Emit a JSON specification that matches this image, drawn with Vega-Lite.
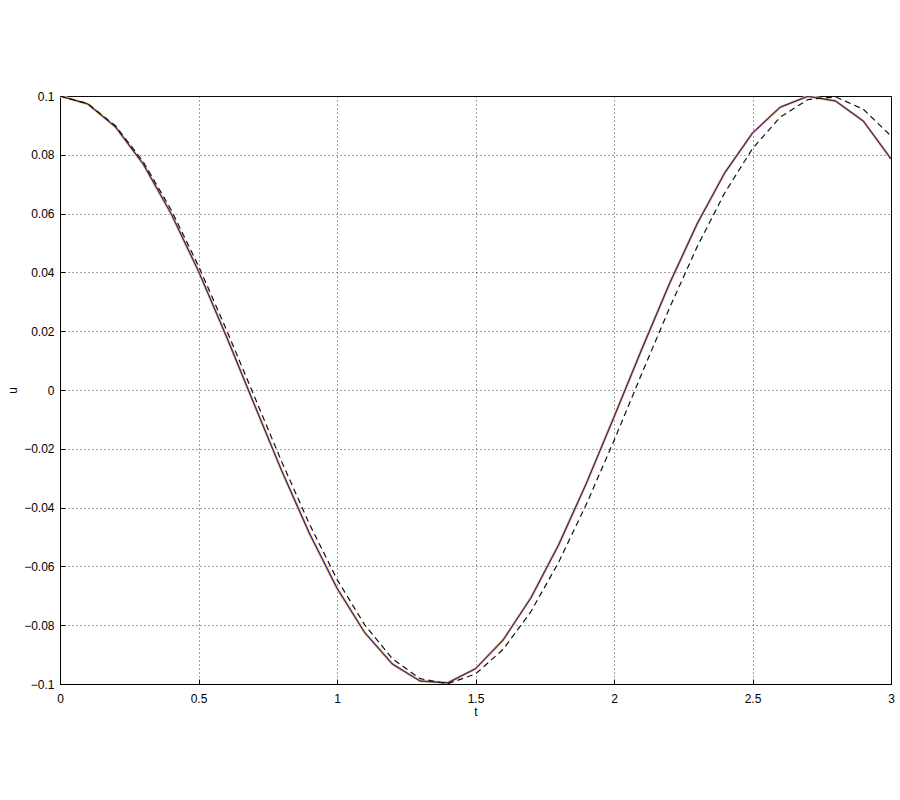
{
  "$schema": "https://vega.github.io/schema/vega-lite/v6.json",
  "width": 831,
  "height": 588,
  "autosize": {"type": "none"},
  "padding": {"left": 60, "top": 96, "right": 9, "bottom": 116},
  "background": "white",
  "config": {
    "view": {"stroke": "black", "strokeWidth": 1},
    "font": "Liberation Sans",
    "axis": {
      "labelFont": "Liberation Sans",
      "titleFont": "Liberation Sans",
      "labelFontSize": 12,
      "titleFontSize": 12,
      "titleFontWeight": "normal",
      "labelColor": "black",
      "titleColor": "black",
      "domainColor": "black",
      "tickColor": "black",
      "grid": true,
      "gridColor": "#222222",
      "gridDash": [1, 3],
      "gridWidth": 1,
      "gridOpacity": 0.85
    }
  },
  "datasets": {
    "curves": [
      {"t": 0.0, "u": 0.1}, {"t": 0.1, "u": 0.0973}, {"t": 0.2, "u": 0.0895},
      {"t": 0.3, "u": 0.0769}, {"t": 0.4, "u": 0.0602}, {"t": 0.5, "u": 0.0404},
      {"t": 0.6, "u": 0.0184}, {"t": 0.7, "u": -0.0046}, {"t": 0.8, "u": -0.0274},
      {"t": 0.9, "u": -0.0487}, {"t": 1.0, "u": -0.0674}, {"t": 1.1, "u": -0.0825},
      {"t": 1.2, "u": -0.0932}, {"t": 1.3, "u": -0.099}, {"t": 1.4, "u": -0.0996},
      {"t": 1.5, "u": -0.0948}, {"t": 1.6, "u": -0.085}, {"t": 1.7, "u": -0.0707},
      {"t": 1.8, "u": -0.0527}, {"t": 1.9, "u": -0.0318}, {"t": 2.0, "u": -0.0092},
      {"t": 2.1, "u": 0.0138}, {"t": 2.2, "u": 0.0361}, {"t": 2.3, "u": 0.0565},
      {"t": 2.4, "u": 0.0739}, {"t": 2.5, "u": 0.0874}, {"t": 2.6, "u": 0.0962},
      {"t": 2.7, "u": 0.0999}, {"t": 2.8, "u": 0.0983}, {"t": 2.9, "u": 0.0915},
      {"t": 3.0, "u": 0.0786}
    ],
    "dashed": [
      {"t": 0.0, "u": 0.1}, {"t": 0.1, "u": 0.0974}, {"t": 0.2, "u": 0.0899},
      {"t": 0.3, "u": 0.0777}, {"t": 0.4, "u": 0.0615}, {"t": 0.5, "u": 0.0422},
      {"t": 0.6, "u": 0.0207}, {"t": 0.7, "u": -0.0018}, {"t": 0.8, "u": -0.0243},
      {"t": 0.9, "u": -0.0455}, {"t": 1.0, "u": -0.0644}, {"t": 1.1, "u": -0.0799},
      {"t": 1.2, "u": -0.0914}, {"t": 1.3, "u": -0.0982}, {"t": 1.4, "u": -0.0999},
      {"t": 1.5, "u": -0.0966}, {"t": 1.6, "u": -0.0882}, {"t": 1.7, "u": -0.0754},
      {"t": 1.8, "u": -0.0586}, {"t": 1.9, "u": -0.0389}, {"t": 2.0, "u": -0.0172},
      {"t": 2.1, "u": 0.0055}, {"t": 2.2, "u": 0.0278}, {"t": 2.3, "u": 0.0487},
      {"t": 2.4, "u": 0.0671}, {"t": 2.5, "u": 0.0821}, {"t": 2.6, "u": 0.0928},
      {"t": 2.7, "u": 0.0988}, {"t": 2.8, "u": 0.0997}, {"t": 2.9, "u": 0.0955},
      {"t": 3.0, "u": 0.0864}
    ]
  },
  "layer": [
    {
      "data": {"name": "curves"},
      "mark": {"type": "line", "color": "#f0e890", "strokeWidth": 3, "clip": true},
      "encoding": {
        "x": {
          "field": "t", "type": "quantitative",
          "scale": {"domain": [0, 3], "nice": false, "zero": false},
          "axis": {"title": "t", "values": [0, 0.5, 1, 1.5, 2, 2.5, 3], "format": "~g", "tickSize": -5, "labelPadding": 14, "titlePadding": 2, "labelFlush": false}
        },
        "y": {
          "field": "u", "type": "quantitative",
          "scale": {"domain": [-0.1, 0.1], "nice": false, "zero": false},
          "axis": {"title": "u", "values": [-0.1, -0.08, -0.06, -0.04, -0.02, 0, 0.02, 0.04, 0.06, 0.08, 0.1], "format": "~g", "tickSize": -5, "labelPadding": 11, "titlePadding": 4, "labelFlush": false}
        }
      }
    },
    {
      "data": {"name": "curves"},
      "mark": {"type": "line", "color": "#a050d0", "strokeWidth": 1.6, "clip": true},
      "encoding": {
        "x": {"field": "t", "type": "quantitative"},
        "y": {"field": "u", "type": "quantitative"}
      }
    },
    {
      "data": {"name": "curves"},
      "mark": {"type": "line", "color": "#202020", "strokeWidth": 0.8, "clip": true},
      "encoding": {
        "x": {"field": "t", "type": "quantitative"},
        "y": {"field": "u", "type": "quantitative"}
      }
    },
    {
      "data": {"name": "dashed"},
      "mark": {"type": "line", "color": "#111111", "strokeWidth": 1.2, "strokeDash": [6, 4], "clip": true},
      "encoding": {
        "x": {"field": "t", "type": "quantitative"},
        "y": {"field": "u", "type": "quantitative"}
      }
    }
  ]
}
